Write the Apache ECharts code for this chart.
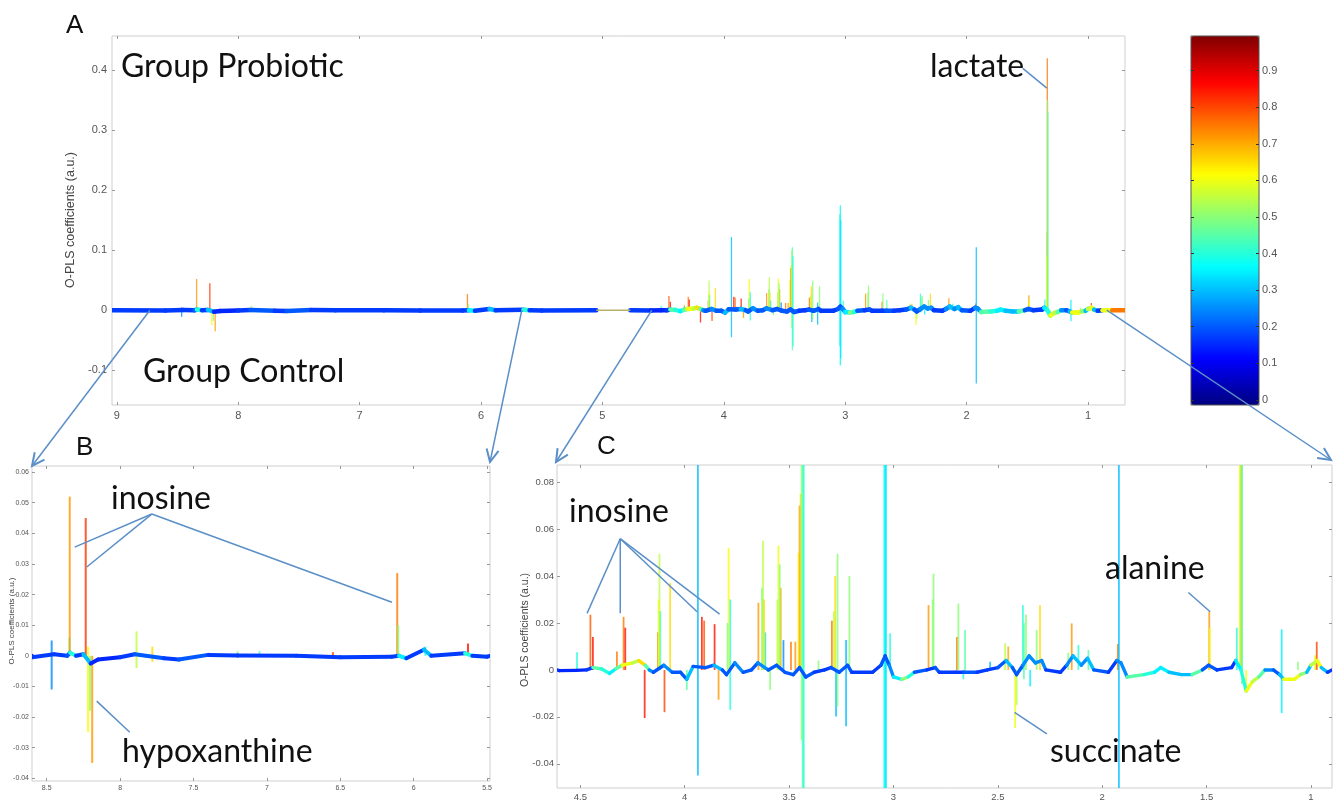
<!DOCTYPE html>
<html>
<head>
<meta charset="utf-8">
<script src="https://cdn.jsdelivr.net/npm/echarts@6/dist/echarts.min.js"></script>
<style>
  html, body { margin: 0; padding: 0; background: #fff; }
  #chart { width: 1340px; height: 802px; }
</style>
</head>
<body>
<div id="chart"></div>
<script>
// tick labels of each panel
const aXTicks = [9, 8, 7, 6, 5, 4, 3, 2, 1];
const aYTicks = [-0.1, 0, 0.1, 0.2, 0.3, 0.4];
const bXTicks = [8.5, 8, 7.5, 7, 6.5, 6, 5.5];
const bYTicks = [-0.04, -0.03, -0.02, -0.01, 0, 0.01, 0.02, 0.03, 0.04, 0.05, 0.06];
const cXTicks = [4.5, 4, 3.5, 3, 2.5, 2, 1.5, 1];
const cYTicks = [-0.04, -0.02, 0, 0.02, 0.04, 0.06, 0.08];
const barTicks = [0, 0.1, 0.2, 0.3, 0.4, 0.5, 0.6, 0.7, 0.8, 0.9];

// spectral sticks: ppm, lowest value, highest value, correlation
const peakPpm  = [8.466, 8.345, 8.343, 8.234, 8.218, 8.205, 8.19, 7.888, 7.78, 7.2, 7.05, 6.55, 6.112, 6.105, 5.92, 5.63,
                  4.516, 4.452, 4.44, 4.325, 4.293, 4.285, 4.192, 4.128, 4.121, 4.097, 4.07, 3.99, 3.937, 3.918, 3.907, 3.857, 3.838, 3.79, 3.782,
                  3.647, 3.625, 3.614, 3.591, 3.551, 3.54, 3.527, 3.491, 3.47, 3.455, 3.445, 3.435, 3.359, 3.295, 3.279, 3.275, 3.268, 3.227, 3.211,
                  3.04, 3.016, 2.832, 2.808, 2.696, 2.689, 2.665, 2.657, 2.537, 2.465, 2.45, 2.417, 2.41, 2.38, 2.365, 2.345, 2.314, 2.298,
                  2.163, 2.146, 2.114, 2.066, 1.925, 1.92, 1.487, 1.355, 1.338, 1.335, 1.332, 1.31, 1.14, 1.062, 0.98, 0.972,
                  4.125, 4.117, 3.795, 3.63, 3.62, 3.556, 3.545, 3.45, 3.44, 3.43, 3.044, 3.036, 3.285, 2.812, 2.375, 1.34, 1.33, 1.484];
const peakLo   = [-0.011, 0, 0, 0, -0.025, -0.018, -0.035, -0.004, -0.002, 0, 0, 0, 0, 0, 0, 0,
                  0, 0, 0, 0, 0, 0, -0.0205, 0, 0, -0.018, 0, -0.0085, -0.045, 0, 0, 0, -0.0127, 0, -0.017,
                  0, 0, 0, -0.0085, 0, 0, 0, 0, 0, 0, 0, -0.067, 0, 0, 0, -0.0198, -0.0156, -0.024, 0,
                  -0.092, 0, 0, 0, 0, 0, -0.004, 0, 0, 0, 0, -0.0248, -0.015, 0, 0, -0.007, 0, 0,
                  0, 0, 0, 0, 0, -0.122, 0, 0, 0, 0, 0, -0.0085, -0.0184, 0, 0, 0,
                  0, 0, 0, 0, 0, 0, 0, 0, -0.03, -0.06, -0.06, -0.08, 0, 0, -0.004, 0, -0.006, 0];
const peakHi   = [0.005, 0.006, 0.052, 0.045, 0.003, 0, 0, 0.008, 0.003, 0.0015, 0.0015, 0.0012, 0.027, 0.01, 0.003, 0.004,
                  0.0075, 0.0235, 0.014, 0.0078, 0.0226, 0.018, 0, 0.016, 0.0495, 0, 0.037, 0, 0.122, 0.0226, 0.021, 0.0195, 0, 0.052, 0.03,
                  0.0286, 0.055, 0.016, 0, 0.053, 0.035, 0.0127, 0.012, 0.012, 0.05, 0.075, 0.105, 0.004, 0.021, 0.04, 0, 0.0495, 0.0127, 0.04,
                  0.175, 0.0156, 0.0276, 0.041, 0.014, 0.0283, 0, 0.017, 0.0035, 0.0113, 0.01, 0, 0, 0.0276, 0.0236, 0, 0.017, 0.0276,
                  0.0073, 0.0198, 0.0106, 0.0085, 0.011, 0.105, 0.0248, 0.018, 0.13, 0.42, 0.35, 0, 0.0173, 0.0035, 0.0063, 0.012,
                  0.03, 0.025, 0.02, 0.035, 0.03, 0.03, 0.045, 0.07, 0.1, 0.09, 0.16, 0.15, 0.025, 0.03, 0.02, 0.09, 0.33, 0.018];
const peakCorr = [0.25, 0.45, 0.72, 0.82, 0.62, 0.5, 0.72, 0.55, 0.65, 0.5, 0.45, 0.8, 0.75, 0.5, 0.4, 0.85,
                  0.4, 0.78, 0.85, 0.75, 0.75, 0.85, 0.85, 0.75, 0.55, 0.8, 0.65, 0.45, 0.3, 0.85, 0.78, 0.85, 0.72, 0.62, 0.4,
                  0.72, 0.55, 0.35, 0.5, 0.6, 0.7, 0.25, 0.75, 0.72, 0.6, 0.65, 0.45, 0.5, 0.75, 0.65, 0.3, 0.5, 0.3, 0.5,
                  0.36, 0.4, 0.72, 0.5, 0.75, 0.5, 0.4, 0.45, 0.3, 0.55, 0.7, 0.6, 0.55, 0.4, 0.5, 0.35, 0.5, 0.65,
                  0.5, 0.72, 0.4, 0.45, 0.75, 0.3, 0.72, 0.4, 0.55, 0.75, 0.5, 0.6, 0.35, 0.5, 0.6, 0.8,
                  0.6, 0.45, 0.5, 0.5, 0.65, 0.55, 0.5, 0.7, 0.5, 0.4, 0.38, 0.34, 0.55, 0.5, 0.45, 0.6, 0.45, 0.6];

// baseline knots: ppm, value (null = excluded water region), correlation
const basePpm  = [9.04, 8.6, 8.45, 8.36, 8.34, 8.3, 8.25, 8.2, 8.15, 8.0, 7.9, 7.7, 7.6, 7.4, 7.2, 6.8, 6.5, 6.15, 6.1, 6.05, 5.93, 5.88, 5.65, 5.6, 5.5, 5.05, 4.9,
                  4.77, 4.6, 4.52, 4.47, 4.44, 4.4, 4.36, 4.33, 4.3, 4.25, 4.22, 4.19, 4.17, 4.15, 4.1, 4.06, 4.02, 3.99, 3.96, 3.9, 3.86, 3.82, 3.8, 3.76, 3.72, 3.68,
                  3.65, 3.6, 3.56, 3.52, 3.48, 3.45, 3.42, 3.38, 3.33, 3.3, 3.26, 3.22, 3.2, 3.1, 3.06, 3.04, 3.02, 3.0, 2.96, 2.93, 2.9, 2.84, 2.8, 2.78,
                  2.7, 2.66, 2.6, 2.55, 2.5, 2.46, 2.43, 2.41, 2.38, 2.35, 2.32, 2.29, 2.27, 2.2, 2.17, 2.14, 2.1, 2.07, 2.04, 1.97, 1.93, 1.91, 1.88,
                  1.8, 1.75, 1.72, 1.68, 1.62, 1.57, 1.52, 1.49, 1.45, 1.38, 1.36, 1.335, 1.31, 1.28, 1.25, 1.22, 1.18, 1.15, 1.13, 1.08, 1.05, 1.02,
                  1.0, 0.97, 0.95, 0.92, 0.88, 0.8, 0.7];
const baseVal  = [0, -0.0005, 0.0005, 0, 0.001, 0, 0.0005, -0.0025, -0.0012, -0.0005, 0.0005, -0.0008, -0.0012, 0.0003, 0.0001, 0, -0.0005, -0.0003, 0, -0.0008, 0.002, 0, 0.0008, 0, -0.0003, 0, null,
                  0, -0.0003, -0.0002, 0, 0.001, 0.0005, -0.0015, 0.0005, 0.002, 0.003, 0.004, 0.002, 0, -0.001, 0.002, -0.001, -0.001, -0.004, 0.0015, 0.001, 0.002, 0, -0.002, 0.003, -0.001, 0,
                  0.003, 0, 0.002, -0.001, -0.002, 0.001, -0.003, -0.001, 0, 0.001, -0.001, 0.002, -0.001, -0.001, 0.002, 0.006, 0.002, -0.003, -0.004, -0.003, -0.001, 0, 0.001, -0.001,
                  -0.001, -0.001, -0.001, 0, 0.001, 0.004, 0.001, -0.002, 0.002, 0.006, 0.003, 0.004, 0, -0.001, 0.002, 0.006, 0.002, 0.005, 0, -0.001, 0.004, 0.003, -0.003,
                  -0.002, -0.001, 0.001, -0.001, -0.002, -0.002, 0, 0.002, 0, 0.001, 0.004, 0, -0.009, -0.005, -0.003, 0, 0, -0.002, -0.004, -0.004, -0.002, -0.001,
                  0.002, 0.004, 0.001, -0.001, 0, 0, 0];
const baseCorr = [0.17, 0.17, 0.17, 0.2, 0.4, 0.17, 0.3, 0.15, 0.15, 0.17, 0.2, 0.17, 0.2, 0.17, 0.17, 0.17, 0.17, 0.17, 0.35, 0.17, 0.3, 0.17, 0.4, 0.17, 0.17, 0.17, 0.17,
                  0.17, 0.15, 0.15, 0.17, 0.45, 0.4, 0.35, 0.45, 0.6, 0.55, 0.65, 0.45, 0.25, 0.2, 0.25, 0.2, 0.2, 0.3, 0.2, 0.2, 0.3, 0.2, 0.2, 0.25, 0.2, 0.2,
                  0.25, 0.2, 0.2, 0.2, 0.2, 0.2, 0.2, 0.17, 0.17, 0.2, 0.2, 0.2, 0.17, 0.17, 0.2, 0.2, 0.25, 0.35, 0.5, 0.4, 0.2, 0.17, 0.2, 0.17,
                  0.17, 0.2, 0.17, 0.17, 0.2, 0.3, 0.2, 0.2, 0.25, 0.25, 0.25, 0.25, 0.17, 0.17, 0.25, 0.3, 0.25, 0.3, 0.2, 0.17, 0.25, 0.25, 0.45,
                  0.4, 0.35, 0.35, 0.3, 0.3, 0.45, 0.2, 0.2, 0.17, 0.17, 0.35, 0.4, 0.6, 0.55, 0.45, 0.25, 0.2, 0.3, 0.6, 0.6, 0.5, 0.3,
                  0.55, 0.6, 0.3, 0.17, 0.6, 0.75, 0.7];

// excluded water region, drawn as a thin line in panel A
const waterPpm = [5.05, 4.77];
const waterVal = [0, 0];

// annotation leader lines, in data units of their panel
const leaderA = [[[1.537, 0.403], [1.339, 0.37]]];
const leaderB = [[[7.784, 0.0463], [8.309, 0.0355]], [[7.784, 0.0463], [8.227, 0.029]], [[7.784, 0.0463], [6.148, 0.0175]],
                 [[8.159, -0.0148], [7.934, -0.025]]];
const leaderC = [[[4.309, 0.0559], [4.468, 0.0241]], [[4.309, 0.0559], [4.309, 0.0241]], [[4.309, 0.0559], [3.941, 0.0248]],
                 [[4.309, 0.0559], [3.833, 0.0238]], [[1.587, 0.033], [1.483, 0.0248]], [[2.42, -0.0181], [2.265, -0.0272]]];
// zoom arrows start on the zero line of panel A
const zoomFrom = [8.728, 5.664, 4.593, 0.845];

const jet = ['#000080', '#0000ff', '#0080ff', '#00ffff', '#80ff80', '#ffff00', '#ff8000', '#ff0000', '#800000'];
const tickFont = 'Liberation Sans, Arial, sans-serif';
const noteFont = 'Lato, "Open Sans", sans-serif';
const noteColor = '#5b8fc7';

const panels = [
  { grid: { left: 112, top: 36, width: 1013, height: 369 }, x: [0.695, 9.04], y: [-0.158, 0.457],
    xt: aXTicks, yt: aYTicks, font: 11, xm: 5, ym: 5, stick: 1.3, base: 4.5 },
  { grid: { left: 32, top: 466, width: 458, height: 315 }, x: [5.48, 8.6], y: [-0.0409, 0.062],
    xt: bXTicks, yt: bYTicks, font: 7, xm: 4, ym: 3, stick: 2, base: 4 },
  { grid: { left: 557, top: 465, width: 775, height: 324 }, x: [0.899, 4.612], y: [-0.0503, 0.0873],
    xt: cXTicks, yt: cYTicks, font: 9.5, xm: 4, ym: 3, stick: 1.8, base: 3.4 }
];

const fmt = v => String(parseFloat(Number(v).toFixed(3)));

function makeAxis(gi, pos, range, ticks, p, labels, inverse) {
  return {
    type: 'value', gridIndex: gi, position: pos, inverse: inverse,
    min: range[0], max: range[1],
    axisLine: { show: false, onZero: false },
    splitLine: { show: false },
    axisTick: { show: true, inside: true, length: 3, customValues: ticks, lineStyle: { color: '#999' } },
    axisLabel: {
      show: labels, customValues: ticks, formatter: fmt, fontSize: p.font, fontFamily: tickFont, color: '#555',
      margin: (pos === 'bottom' || pos === 'top') ? p.xm : p.ym
    }
  };
}

const grids = [], xAxes = [], yAxes = [];
panels.forEach((p, i) => {
  grids.push(Object.assign({ show: true, borderColor: '#cfcfcf', borderWidth: 1 }, p.grid));
  xAxes.push(makeAxis(i, 'bottom', p.x, p.xt, p, true, true));
  xAxes.push(makeAxis(i, 'top', p.x, p.xt, p, false, true));
  yAxes.push(makeAxis(i, 'left', p.y, p.yt, p, true, false));
  yAxes.push(makeAxis(i, 'right', p.y, p.yt, p, false, false));
});
// colour bar frame and its tick labels
const barRange = [-0.014, 0.995];
grids.push({ show: true, left: 1191, top: 36, width: 68, height: 369, borderColor: '#555', borderWidth: 1, z: 10 });
xAxes.push({ type: 'value', gridIndex: 3, min: 0, max: 1, show: false });
yAxes.push({ type: 'value', gridIndex: 3, position: 'left', min: barRange[0], max: barRange[1],
  axisLine: { show: false }, splitLine: { show: false }, axisLabel: { show: false },
  axisTick: { inside: true, length: 3, customValues: barTicks, lineStyle: { color: '#333' } }, z: 10 });
yAxes.push({ type: 'value', gridIndex: 3, position: 'right', min: barRange[0], max: barRange[1],
  axisLine: { show: false }, splitLine: { show: false },
  axisTick: { inside: true, length: 3, customValues: barTicks, lineStyle: { color: '#333' } },
  axisLabel: { customValues: barTicks, formatter: fmt, fontSize: 11, fontFamily: tickFont, color: '#555', margin: 3 }, z: 10 });

const peakData = peakPpm.map((p, i) => [p, peakLo[i], peakHi[i], peakCorr[i]]);
const baseData = basePpm.map((p, i) => [p, baseVal[i] == null ? '-' : baseVal[i], baseCorr[i]]);

function stickRender(width) {
  return function (params, api) {
    const cs = params.coordSys;
    const top = api.coord([api.value(0), api.value(2)]);
    const bot = api.coord([api.value(0), api.value(1)]);
    const x = top[0];
    if (x < cs.x || x > cs.x + cs.width) return null;
    const clampY = y => Math.max(cs.y, Math.min(cs.y + cs.height, y));
    return {
      type: 'line',
      shape: { x1: x, y1: clampY(top[1]), x2: x, y2: clampY(bot[1]) },
      style: { stroke: api.visual('color'), lineWidth: width, opacity: 0.8 }
    };
  };
}

function baseRender(width) {
  return function (params, api) {
    const i = params.dataIndex;
    if (i >= basePpm.length - 1) return null;
    if (baseVal[i] == null || baseVal[i + 1] == null) return null;
    const cs = params.coordSys;
    const p0 = api.coord([basePpm[i], baseVal[i]]);
    const p1 = api.coord([basePpm[i + 1], baseVal[i + 1]]);
    const lo = Math.min(p0[0], p1[0]), hi = Math.max(p0[0], p1[0]);
    if (hi < cs.x || lo > cs.x + cs.width) return null;
    const pts = echarts.graphic.clipPointsByRect([p0, p1], { x: cs.x, y: cs.y, width: cs.width, height: cs.height });
    return {
      type: 'polyline',
      shape: { points: pts },
      style: { stroke: api.visual('color'), lineWidth: width, lineCap: 'round' }
    };
  };
}

const series = [];
panels.forEach((p, i) => {
  series.push({ type: 'custom', xAxisIndex: 2 * i, yAxisIndex: 2 * i, data: peakData,
    renderItem: stickRender(p.stick), clip: true, silent: true, z: 2 });
});
panels.forEach((p, i) => {
  series.push({ type: 'custom', xAxisIndex: 2 * i, yAxisIndex: 2 * i, data: baseData,
    renderItem: baseRender(p.base), clip: true, silent: true, z: 3 });
});
series.push({ type: 'line', xAxisIndex: 0, yAxisIndex: 0, symbol: 'none', silent: true,
  data: waterPpm.map((p, i) => [p, waterVal[i]]), lineStyle: { color: '#b7b06a', width: 1.5 } });

const chart = echarts.init(document.getElementById('chart'));
chart.setOption({
  animation: false,
  backgroundColor: '#fff',
  grid: grids,
  xAxis: xAxes,
  yAxis: yAxes,
  visualMap: [
    { type: 'continuous', show: true, min: barRange[0], max: barRange[1], dimension: 3, seriesIndex: [0, 1, 2],
      left: 1191, top: 36, itemWidth: 68, itemHeight: 369, padding: 0, calculable: false, hoverLink: false,
      inRange: { color: jet } },
    { type: 'continuous', show: false, min: barRange[0], max: barRange[1], dimension: 2, seriesIndex: [3, 4, 5],
      inRange: { color: jet } }
  ],
  series: series
});

// annotations placed from data coordinates
const toPx = (i, pt) => chart.convertToPixel({ xAxisIndex: 2 * i, yAxisIndex: 2 * i }, pt);
const graphics = [];
function seg(a, b, w) {
  graphics.push({ type: 'polyline', silent: true, z: 20, shape: { points: [a, b] },
    style: { stroke: noteColor, lineWidth: w || 1.5, fill: null } });
}
[leaderA, leaderB, leaderC].forEach((list, i) => {
  list.forEach(l => seg(toPx(i, l[0]), toPx(i, l[1])));
});
const corners = [
  [panels[1].grid.left, panels[1].grid.top],
  [panels[1].grid.left + panels[1].grid.width, panels[1].grid.top - 4],
  [panels[2].grid.left - 1, panels[2].grid.top - 3],
  [panels[2].grid.left + panels[2].grid.width - 1, panels[2].grid.top - 5]
];
zoomFrom.forEach((ppm, k) => {
  const a = toPx(0, [ppm, 0]);
  const b = corners[k];
  seg(a, b, 1.5);
  const ang = Math.atan2(b[1] - a[1], b[0] - a[0]);
  const len = 14, spread = 0.45;
  const w1 = [b[0] - len * Math.cos(ang - spread), b[1] - len * Math.sin(ang - spread)];
  const w2 = [b[0] - len * Math.cos(ang + spread), b[1] - len * Math.sin(ang + spread)];
  graphics.push({ type: 'polyline', silent: true, z: 20, shape: { points: [w1, b, w2] },
    style: { stroke: noteColor, lineWidth: 2, fill: null } });
});

function label(text, x, y, size, family) {
  graphics.push({ type: 'text', silent: true, z: 21, x: x, y: y,
    style: { text: text, fill: '#111', font: size + 'px ' + family,
      align: 'left', textAlign: 'left', verticalAlign: 'middle', textVerticalAlign: 'middle' } });
}
label('A', 66, 26, 26, tickFont);
label('B', 76, 448, 26, tickFont);
label('C', 597, 447, 26, tickFont);
label('Group Probiotic', 121, 67, 32, noteFont);
label('Group Control', 143, 372, 32, noteFont);
label('lactate', 930, 67, 32, noteFont);
label('inosine', 111, 499, 32, noteFont);
label('hypoxanthine', 122, 752, 32, noteFont);
label('inosine', 569, 512, 32, noteFont);
label('alanine', 1105, 569, 32, noteFont);
label('succinate', 1050, 752, 32, noteFont);

function yTitle(x, y, size) {
  graphics.push({ type: 'text', silent: true, z: 21, x: x, y: y, rotation: Math.PI / 2,
    style: { text: 'O-PLS coefficients (a.u.)', fill: '#444', font: size + 'px ' + tickFont,
      align: 'center', textAlign: 'center', verticalAlign: 'middle', textVerticalAlign: 'middle' } });
}
yTitle(71, 220, 12.5);
yTitle(12, 621, 8);
yTitle(525, 630, 10.5);

chart.setOption({ graphic: graphics });
</script>
</body>
</html>
